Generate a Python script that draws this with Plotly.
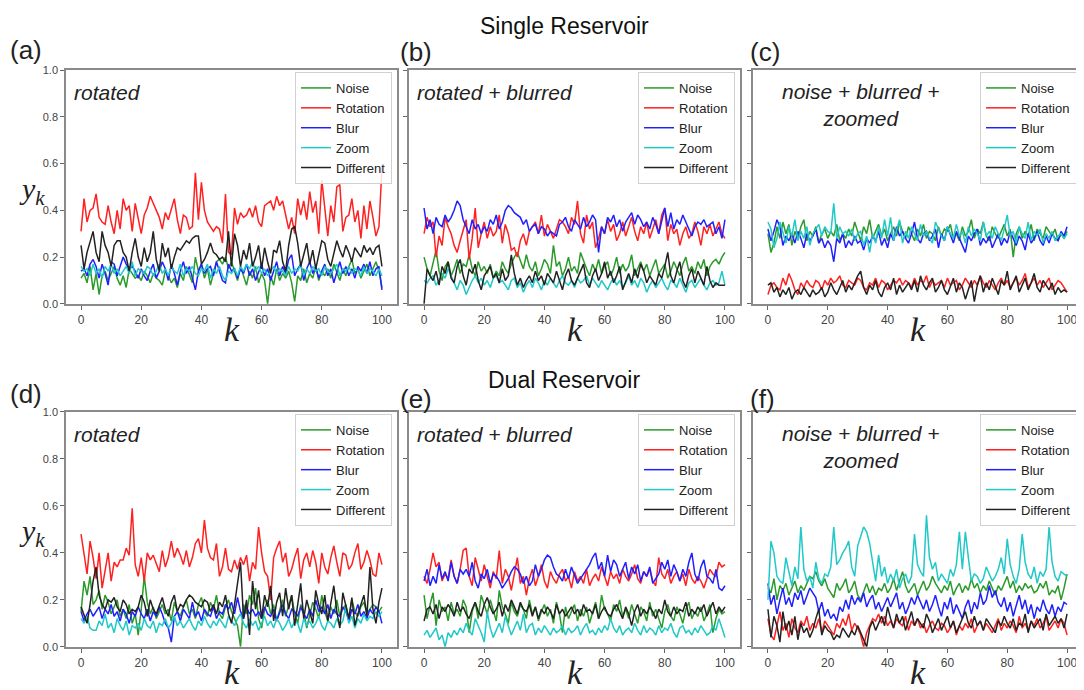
import plotly.graph_objects as go

# ---------------- data ----------------
series_names = ["Noise", "Rotation", "Blur", "Zoom", "Different"]
panel_labels = ["(a)", "(b)", "(c)", "(d)", "(e)", "(f)"]
panel_texts = ["rotated", "rotated + blurred", "noise + blurred +<br>zoomed",
               "rotated", "rotated + blurred", "noise + blurred +<br>zoomed"]
row_titles = ["Single Reservoir", "Dual Reservoir"]
x_ticks = [0, 20, 40, 60, 80, 100]
y_ticks = [0.0, 0.2, 0.4, 0.6, 0.8, 1.0]

# Panel (a)
A_noise = [.11,.13,.09,.16,.06,.13,.04,.12,.14,.10,.13,.16,.11,.08,.12,.07,.15,.13,.11,.12,.10,.14,.12,.09,.13,.11,.10,.08,.14,.12,.09,.11,.07,.13,.10,.16,.12,.09,.20,.14,.17,.11,.15,.08,.13,.18,.19,.17,.20,.15,.18,.14,.10,.16,.12,.08,.14,.11,.16,.09,.13,.10,.00,.12,.08,.15,.10,.13,.11,.14,.09,.01,.12,.10,.15,.09,.13,.11,.16,.10,.14,.12,.15,.11,.17,.13,.10,.15,.12,.16,.19,.13,.15,.11,.14,.17,.12,.15,.18,.14,.07]
A_rot = [.31,.45,.35,.40,.41,.47,.37,.35,.34,.42,.35,.30,.40,.32,.45,.40,.42,.31,.43,.37,.30,.38,.41,.46,.43,.40,.37,.32,.39,.36,.40,.45,.36,.30,.38,.37,.32,.33,.56,.36,.52,.40,.35,.33,.31,.33,.32,.26,.47,.22,.21,.41,.34,.39,.37,.38,.41,.37,.42,.35,.33,.42,.43,.44,.40,.46,.42,.44,.38,.32,.37,.30,.45,.38,.44,.36,.48,.39,.44,.30,.53,.40,.29,.42,.35,.50,.51,.31,.37,.38,.45,.35,.40,.28,.42,.32,.44,.37,.29,.33,.58]
A_blur = [.14,.15,.12,.17,.19,.16,.11,.17,.13,.08,.18,.17,.12,.16,.20,.17,.15,.16,.14,.11,.15,.12,.10,.14,.17,.11,.14,.18,.15,.10,.17,.13,.08,.14,.18,.13,.16,.11,.06,.14,.17,.13,.15,.16,.12,.18,.14,.10,.09,.17,.14,.15,.11,.15,.13,.17,.12,.15,.10,.14,.17,.12,.15,.10,.14,.18,.12,.16,.13,.19,.21,.12,.15,.17,.10,.15,.18,.13,.16,.11,.14,.17,.12,.15,.09,.14,.18,.13,.16,.12,.15,.11,.16,.14,.17,.13,.18,.12,.15,.16,.06]
A_zoom = [.16,.14,.15,.12,.17,.13,.15,.11,.16,.14,.17,.13,.15,.12,.14,.16,.13,.18,.12,.15,.14,.13,.16,.15,.12,.14,.17,.13,.15,.12,.16,.14,.13,.17,.12,.15,.14,.16,.13,.12,.15,.14,.17,.11,.15,.13,.16,.12,.10,.14,.13,.15,.12,.16,.14,.17,.15,.18,.14,.16,.13,.15,.12,.14,.16,.13,.15,.14,.12,.16,.13,.15,.14,.17,.12,.15,.13,.16,.14,.15,.12,.16,.14,.13,.15,.17,.12,.15,.14,.16,.13,.15,.14,.12,.16,.13,.15,.14,.12,.15,.12]
A_diff = [.25,.15,.22,.26,.31,.22,.18,.31,.25,.22,.16,.25,.27,.27,.22,.20,.14,.22,.28,.20,.16,.24,.18,.22,.31,.19,.14,.26,.20,.24,.15,.20,.24,.23,.25,.27,.26,.28,.29,.29,.17,.19,.22,.26,.22,.21,.19,.20,.18,.31,.16,.30,.25,.16,.23,.19,.26,.16,.20,.25,.15,.24,.18,.13,.23,.22,.27,.18,.14,.25,.32,.33,.26,.16,.21,.26,.17,.23,.15,.21,.27,.26,.19,.16,.22,.27,.23,.20,.25,.22,.18,.24,.22,.20,.25,.22,.24,.21,.24,.25,.16]

# Panel (b)
B_noise = [.20,.15,.12,.17,.23,.14,.10,.16,.18,.12,.15,.19,.13,.17,.16,.21,.15,.12,.18,.14,.16,.13,.17,.11,.14,.12,.18,.15,.13,.17,.20,.22,.18,.15,.21,.16,.14,.18,.12,.15,.19,.17,.13,.25,.16,.18,.12,.15,.20,.14,.16,.13,.22,.18,.15,.12,.17,.14,.19,.13,.16,.18,.12,.15,.20,.13,.17,.14,.16,.21,.12,.15,.18,.14,.17,.12,.16,.19,.13,.15,.17,.11,.14,.18,.15,.12,.17,.20,.14,.16,.13,.18,.15,.19,.12,.16,.18,.19,.17,.20,.22]
B_rot = [.30,.37,.33,.35,.20,.29,.25,.37,.33,.30,.25,.22,.27,.31,.36,.19,.28,.41,.24,.30,.35,.28,.33,.29,.31,.38,.26,.34,.30,.23,.24,.20,.27,.30,.25,.31,.33,.35,.30,.38,.29,.34,.31,.28,.32,.36,.35,.33,.30,.37,.34,.44,.30,.26,.38,.32,.35,.24,.28,.33,.30,.36,.31,.34,.27,.30,.35,.29,.33,.37,.31,.27,.33,.30,.35,.28,.32,.36,.30,.38,.41,.27,.34,.30,.32,.25,.30,.33,.28,.30,.35,.31,.25,.33,.30,.34,.29,.32,.35,.30,.28]
B_blur = [.41,.32,.36,.30,.37,.34,.33,.38,.35,.37,.40,.44,.42,.36,.33,.30,.36,.32,.34,.30,.33,.31,.36,.34,.38,.32,.35,.40,.42,.41,.39,.38,.37,.34,.36,.31,.33,.34,.30,.33,.32,.29,.31,.30,.29,.34,.35,.37,.33,.31,.36,.34,.32,.37,.33,.35,.38,.36,.22,.33,.30,.37,.35,.38,.33,.36,.31,.35,.37,.39,.34,.38,.36,.33,.35,.32,.37,.34,.30,.35,.41,.33,.39,.32,.36,.34,.38,.35,.32,.29,.33,.35,.34,.36,.33,.34,.35,.30,.33,.28,.36]
B_zoom = [.10,.09,.11,.12,.08,.10,.13,.11,.15,.12,.09,.06,.10,.08,.04,.07,.10,.12,.09,.11,.08,.10,.07,.11,.12,.09,.10,.08,.06,.10,.11,.07,.09,.05,.08,.10,.07,.11,.09,.06,.10,.08,.11,.09,.07,.10,.12,.09,.08,.10,.07,.11,.09,.10,.12,.08,.11,.09,.07,.10,.08,.06,.09,.11,.08,.10,.07,.09,.12,.08,.10,.07,.11,.09,.05,.08,.10,.07,.09,.11,.08,.06,.10,.09,.07,.11,.08,.05,.09,.10,.07,.09,.11,.08,.06,.09,.10,.08,.09,.14,.08]
B_diff = [.00,.15,.12,.10,.14,.08,.16,.13,.18,.11,.09,.16,.19,.12,.08,.15,.13,.17,.10,.06,.12,.14,.16,.11,.13,.09,.15,.10,.12,.21,.13,.08,.11,.07,.10,.12,.09,.14,.10,.12,.08,.13,.11,.09,.14,.10,.06,.12,.15,.10,.08,.11,.14,.17,.09,.07,.12,.15,.10,.13,.18,.11,.14,.09,.12,.16,.06,.10,.13,.09,.15,.11,.17,.14,.09,.12,.10,.08,.13,.11,.16,.22,.12,.09,.14,.18,.10,.07,.12,.15,.09,.14,.11,.08,.16,.10,.07,.09,.08,.08,.08]

# Panel (c)
C_noise = [.30,.22,.26,.33,.28,.35,.30,.34,.25,.31,.28,.33,.36,.27,.31,.29,.33,.26,.30,.32,.28,.31,.29,.34,.27,.30,.28,.32,.29,.35,.31,.27,.33,.30,.36,.28,.31,.34,.29,.32,.27,.30,.33,.29,.35,.31,.28,.33,.30,.27,.32,.29,.34,.28,.31,.30,.27,.33,.29,.32,.31,.34,.28,.30,.27,.33,.29,.31,.36,.28,.32,.30,.35,.29,.27,.33,.30,.28,.31,.34,.29,.32,.20,.30,.33,.28,.31,.29,.34,.27,.32,.30,.28,.33,.31,.29,.32,.27,.30,.28,.31]
C_rot = [.04,.08,.09,.07,.06,.11,.08,.13,.10,.06,.04,.09,.07,.10,.08,.07,.10,.09,.06,.10,.08,.11,.09,.10,.12,.08,.07,.10,.09,.08,.11,.10,.07,.06,.09,.08,.11,.07,.10,.09,.06,.08,.10,.09,.11,.08,.10,.09,.07,.11,.08,.10,.09,.12,.07,.10,.08,.09,.10,.07,.11,.08,.09,.10,.06,.08,.11,.09,.07,.10,.08,.12,.09,.07,.10,.08,.06,.09,.11,.08,.10,.07,.09,.11,.08,.10,.13,.07,.09,.11,.08,.10,.07,.09,.11,.06,.08,.10,.09,.07,.05]
C_blur = [.32,.27,.31,.36,.33,.25,.29,.27,.30,.26,.31,.28,.24,.30,.27,.29,.32,.26,.28,.24,.27,.25,.18,.28,.26,.30,.24,.27,.25,.29,.26,.27,.23,.28,.26,.29,.27,.31,.25,.28,.24,.30,.27,.33,.29,.31,.28,.26,.30,.35,.28,.26,.30,.31,.27,.29,.32,.24,.30,.27,.33,.29,.26,.31,.28,.25,.22,.29,.27,.30,.32,.25,.28,.26,.29,.24,.27,.30,.25,.28,.26,.31,.28,.25,.29,.27,.23,.30,.26,.28,.31,.27,.25,.29,.26,.30,.28,.27,.31,.29,.33]
C_zoom = [.35,.32,.24,.28,.35,.30,.26,.33,.29,.36,.27,.31,.28,.33,.25,.30,.32,.34,.29,.33,.31,.30,.43,.28,.33,.30,.31,.29,.32,.27,.30,.31,.25,.29,.22,.30,.26,.33,.28,.36,.29,.37,.27,.32,.36,.26,.31,.28,.33,.30,.27,.34,.29,.31,.28,.26,.35,.32,.29,.27,.33,.30,.28,.34,.29,.31,.26,.33,.29,.32,.30,.27,.35,.29,.31,.28,.33,.30,.27,.32,.38,.29,.31,.26,.33,.30,.28,.35,.27,.31,.29,.32,.26,.30,.28,.31,.27,.29,.30,.28,.30]
C_diff = [.08,.09,.05,.07,.03,.06,.04,.07,.02,.05,.06,.04,.07,.05,.03,.06,.04,.05,.07,.03,.05,.09,.06,.04,.07,.10,.05,.08,.06,.09,.12,.14,.07,.04,.08,.06,.10,.05,.03,.07,.09,.06,.11,.04,.08,.05,.07,.09,.06,.10,.05,.12,.08,.06,.09,.11,.05,.07,.10,.06,.04,.08,.11,.05,.09,.07,.02,.06,.10,.01,.08,.12,.05,.09,.06,.11,.07,.04,.10,.08,.14,.06,.09,.12,.05,.08,.11,.06,.09,.13,.07,.05,.10,.08,.06,.09,.04,.07,.05,.06,.05]

# Panel (d)
D_noise = [.15,.28,.22,.30,.18,.20,.24,.16,.22,.19,.14,.17,.20,.13,.16,.12,.18,.10,.14,.05,.16,.30,.19,.14,.17,.12,.15,.18,.14,.16,.11,.19,.15,.13,.17,.20,.14,.16,.12,.18,.21,.15,.13,.19,.16,.22,.14,.12,.17,.20,.15,.12,.09,.00,.18,.14,.22,.18,.25,.12,.08,.16,.20,.14,.18,.11,.15,.20,.13,.17,.22,.14,.10,.18,.15,.08,.13,.19,.16,.12,.22,.15,.11,.17,.14,.20,.13,.16,.18,.12,.20,.15,.13,.17,.19,.14,.16,.18,.17,.15,.17]
D_rot = [.48,.40,.31,.45,.38,.29,.40,.25,.33,.40,.28,.36,.34,.37,.37,.42,.39,.59,.35,.30,.38,.28,.40,.37,.39,.35,.32,.41,.34,.38,.45,.38,.42,.39,.35,.41,.34,.38,.44,.46,.40,.54,.42,.38,.37,.44,.30,.34,.42,.33,.32,.37,.33,.38,.35,.39,.28,.36,.33,.51,.40,.32,.30,.20,.38,.42,.45,.36,.40,.30,.33,.38,.42,.29,.37,.40,.34,.41,.36,.27,.40,.34,.31,.38,.43,.36,.30,.40,.39,.33,.35,.40,.44,.33,.36,.41,.37,.31,.30,.40,.35]
D_blur = [.15,.11,.14,.16,.13,.15,.17,.12,.16,.14,.18,.13,.15,.11,.16,.14,.10,.15,.13,.17,.14,.12,.16,.11,.15,.13,.17,.14,.10,.08,.02,.13,.15,.11,.16,.14,.12,.19,.13,.15,.11,.16,.14,.13,.17,.12,.15,.14,.18,.16,.19,.14,.21,.15,.12,.17,.14,.16,.13,.15,.12,.17,.14,.13,.16,.11,.15,.18,.14,.12,.16,.15,.13,.17,.14,.12,.16,.13,.20,.15,.17,.14,.18,.12,.16,.14,.13,.17,.15,.11,.16,.14,.18,.13,.15,.12,.16,.14,.17,.15,.10]
D_zoom = [.12,.10,.13,.08,.07,.07,.11,.09,.14,.08,.10,.06,.12,.09,.07,.11,.05,.09,.08,.10,.07,.12,.09,.08,.11,.06,.10,.09,.12,.08,.10,.13,.09,.11,.08,.10,.12,.09,.07,.11,.09,.13,.10,.08,.11,.09,.12,.10,.08,.13,.11,.09,.12,.14,.10,.08,.12,.09,.11,.07,.10,.13,.09,.11,.08,.12,.10,.07,.09,.12,.08,.11,.10,.06,.12,.09,.11,.08,.10,.13,.09,.07,.11,.10,.08,.12,.09,.11,.17,.10,.13,.08,.12,.10,.14,.11,.13,.12,.15,.13,.15]
D_diff = [.17,.13,.10,.18,.28,.34,.22,.18,.16,.20,.19,.21,.17,.15,.20,.18,.14,.16,.15,.17,.22,.19,.13,.20,.16,.14,.18,.21,.16,.13,.19,.22,.15,.18,.17,.20,.22,.21,.19,.18,.17,.20,.19,.15,.18,.14,.19,.17,.22,.14,.10,.18,.26,.36,.12,.20,.05,.28,.16,.24,.12,.22,.17,.26,.11,.19,.23,.13,.25,.16,.22,.09,.18,.27,.12,.20,.15,.10,.24,.18,.14,.22,.11,.19,.26,.15,.08,.23,.17,.12,.21,.09,.14,.18,.22,.13,.34,.16,.10,.19,.25]

# Panel (e)
E_noise = [.22,.12,.18,.23,.09,.20,.15,.17,.11,.19,.14,.16,.13,.20,.17,.06,.15,.19,.12,.22,.18,.14,.20,.16,.11,.24,.17,.14,.10,.19,.15,.13,.18,.16,.12,.20,.14,.17,.11,.15,.18,.13,.16,.10,.19,.14,.06,.17,.12,.15,.18,.11,.16,.13,.17,.10,.15,.19,.12,.22,.16,.14,.11,.18,.15,.20,.13,.16,.12,.18,.14,.10,.17,.15,.11,.19,.13,.16,.12,.08,.15,.18,.13,.11,.17,.14,.10,.16,.19,.12,.15,.13,.17,.11,.14,.18,.06,.12,.16,.14,.15]
E_rot = [.30,.27,.33,.40,.34,.36,.28,.31,.29,.37,.30,.27,.33,.41,.42,.30,.26,.38,.33,.28,.35,.30,.25,.32,.29,.41,.27,.33,.30,.24,.31,.38,.27,.30,.22,.29,.33,.26,.30,.35,.28,.25,.32,.29,.27,.31,.33,.28,.30,.25,.32,.28,.30,.27,.33,.26,.29,.31,.28,.34,.30,.26,.32,.29,.31,.27,.33,.30,.28,.31,.35,.29,.27,.32,.30,.33,.28,.26,.38,.31,.29,.33,.27,.30,.32,.28,.31,.26,.33,.29,.27,.30,.28,.25,.29,.33,.31,.30,.36,.34,.35]
E_blur = [.28,.33,.26,.30,.27,.35,.29,.32,.28,.36,.30,.27,.33,.31,.33,.30,.36,.28,.25,.31,.29,.33,.27,.31,.30,.28,.25,.27,.29,.32,.34,.33,.31,.27,.30,.26,.28,.35,.30,.33,.37,.39,.38,.34,.31,.30,.28,.33,.29,.34,.30,.27,.29,.31,.33,.35,.38,.40,.33,.36,.30,.39,.32,.37,.35,.30,.33,.36,.29,.34,.31,.35,.28,.32,.30,.34,.27,.29,.31,.36,.33,.37,.30,.35,.32,.28,.33,.30,.36,.40,.31,.28,.34,.37,.30,.29,.27,.33,.25,.24,.26]
E_zoom = [.05,.07,.04,.06,.08,.03,.05,.00,.06,.04,.07,.05,.08,.06,.10,.07,.05,.12,.09,.06,.02,.15,.08,.04,.07,.10,.06,.13,.09,.05,.08,.11,.07,.14,.06,.09,.10,.05,.08,.06,.09,.07,.05,.08,.06,.07,.09,.05,.08,.06,.07,.09,.05,.08,.10,.06,.07,.05,.08,.06,.09,.07,.12,.08,.06,.09,.05,.07,.08,.06,.10,.07,.05,.09,.06,.08,.07,.05,.09,.06,.08,.07,.10,.06,.04,.08,.09,.06,.07,.05,.08,.06,.09,.07,.05,.06,.09,.07,.12,.08,.04]
E_diff = [.11,.16,.17,.14,.18,.12,.17,.15,.18,.16,.13,.19,.15,.17,.14,.12,.16,.19,.15,.13,.18,.21,.17,.14,.16,.19,.13,.18,.15,.20,.17,.14,.19,.16,.15,.18,.13,.17,.12,.16,.14,.17,.15,.12,.18,.14,.16,.13,.15,.17,.14,.16,.13,.18,.15,.16,.14,.18,.12,.15,.17,.14,.13,.16,.18,.15,.12,.17,.14,.09,.15,.18,.13,.16,.14,.17,.15,.12,.16,.14,.20,.15,.13,.17,.14,.16,.15,.19,.13,.16,.14,.17,.15,.18,.13,.16,.19,.14,.17,.15,.17]

# Panel (f)
F_noise = [.25,.23,.29,.20,.26,.24,.27,.22,.25,.28,.23,.26,.24,.27,.30,.29,.32,.28,.26,.29,.25,.23,.21,.27,.24,.26,.29,.23,.25,.28,.22,.20,.24,.27,.23,.26,.22,.25,.24,.27,.23,.25,.29,.24,.28,.32,.26,.23,.25,.27,.22,.25,.28,.24,.26,.30,.27,.25,.23,.26,.24,.28,.22,.25,.27,.23,.26,.24,.29,.25,.27,.23,.26,.24,.28,.25,.22,.26,.24,.27,.30,.25,.28,.23,.26,.24,.27,.25,.26,.23,.24,.27,.25,.28,.22,.24,.23,.26,.20,.25,.31]
F_rot = [.12,.05,.03,.09,.15,.07,.10,.04,.12,.08,.06,.11,.09,.13,.07,.10,.08,.12,.06,.11,.09,.07,.05,.10,.08,.12,.09,.14,.07,.10,.08,.05,.00,.06,.09,.12,.11,.14,.10,.13,.09,.11,.08,.12,.10,.09,.13,.07,.11,.09,.12,.08,.10,.06,.09,.11,.08,.07,.10,.09,.06,.08,.11,.05,.09,.07,.10,.08,.12,.06,.09,.11,.07,.10,.08,.06,.09,.12,.07,.10,.08,.11,.09,.06,.13,.08,.10,.07,.11,.09,.12,.08,.10,.13,.07,.09,.11,.08,.12,.10,.05]
F_blur = [.27,.18,.22,.14,.20,.25,.18,.21,.17,.23,.20,.24,.18,.22,.25,.23,.21,.15,.19,.13,.16,.12,.14,.11,.17,.15,.20,.16,.22,.18,.21,.19,.23,.17,.20,.22,.16,.19,.15,.18,.21,.17,.20,.23,.16,.19,.14,.17,.21,.18,.22,.19,.16,.20,.15,.18,.22,.17,.13,.19,.16,.21,.14,.18,.15,.12,.17,.20,.14,.19,.16,.23,.18,.20,.26,.21,.24,.19,.17,.21,.15,.19,.13,.18,.22,.16,.20,.14,.18,.12,.17,.15,.20,.16,.14,.18,.13,.17,.15,.19,.18]
F_zoom = [.20,.45,.40,.30,.28,.27,.38,.32,.26,.34,.29,.51,.33,.28,.30,.25,.36,.29,.27,.31,.30,.34,.51,.35,.37,.40,.42,.45,.34,.30,.43,.47,.51,.49,.44,.36,.28,.39,.30,.34,.27,.31,.28,.33,.25,.29,.31,.27,.30,.48,.35,.32,.30,.56,.38,.33,.36,.28,.31,.29,.27,.33,.30,.35,.49,.33,.49,.38,.28,.31,.30,.27,.29,.34,.31,.28,.30,.33,.38,.31,.46,.35,.30,.27,.33,.48,.36,.31,.29,.34,.27,.32,.30,.33,.51,.36,.30,.28,.32,.31,.30]
F_diff = [.16,.04,.13,.09,.02,.15,.07,.11,.05,.13,.03,.10,.06,.08,.04,.07,.12,.16,.05,.09,.07,.06,.03,.05,.04,.08,.06,.04,.07,.05,.09,.06,.03,.00,.08,.11,.07,.10,.13,.09,.17,.12,.08,.14,.10,.13,.07,.11,.15,.09,.12,.10,.08,.14,.11,.06,.09,.12,.07,.10,.13,.08,.11,.06,.09,.12,.15,.10,.08,.13,.09,.11,.07,.12,.10,.08,.06,.11,.09,.13,.10,.08,.12,.07,.10,.09,.14,.06,.11,.08,.10,.12,.07,.14,.09,.11,.13,.10,.12,.08,.14]

panels = [
    [A_noise, A_rot, A_blur, A_zoom, A_diff],
    [B_noise, B_rot, B_blur, B_zoom, B_diff],
    [C_noise, C_rot, C_blur, C_zoom, C_diff],
    [D_noise, D_rot, D_blur, D_zoom, D_diff],
    [E_noise, E_rot, E_blur, E_zoom, E_diff],
    [F_noise, F_rot, F_blur, F_zoom, F_diff],
]

# ---------------- styling ----------------
W, H = 1084, 690
OFF = 8  # the page body margin shifts the figure by 8 px
colors = ["#2a9a2a", "#ff2020", "#2020ff", "#20c8c8", "#222222"]
col_px = [(66, 397), (409, 740), (753, 1082)]
row_px = [(65, 303), (413, 652)]
TICKFONT = "Liberation Sans, Arial, sans-serif"
SANS = "Liberation Sans, Arial, sans-serif"
SERIF = "Liberation Serif, DejaVu Serif, serif"
label_pos = [(8, 45), (398, 47), (748, 47), (8, 395), (398, 400), (748, 400)]
title_y = [20, 380]

def px(x):
    return (x - OFF) / W

def py(y):
    return 1 - (y - OFF) / H

fig = go.Figure()
layout = dict(width=W, height=H, margin=dict(l=0, r=0, t=0, b=0),
              plot_bgcolor="white", paper_bgcolor="white", showlegend=True)
annotations = []

for p in range(6):
    r, c = divmod(p, 3)
    ax = "" if p == 0 else str(p + 1)
    x0, x1 = col_px[c]
    y0, y1 = row_px[r]
    layout["xaxis" + ax] = dict(
        domain=[px(x0), px(x1)], range=[-5, 105], anchor="y" + ax,
        tickvals=x_ticks, ticks="outside", ticklen=4, tickcolor="#666",
        showline=True, mirror=True, linecolor="#8a8a8a", linewidth=1.5,
        showgrid=False, zeroline=False,
        tickfont=dict(family=TICKFONT, size=12, color="#444"))
    layout["yaxis" + ax] = dict(
        domain=[py(y1), py(y0)], range=[0, 1], anchor="x" + ax,
        tickvals=y_ticks, ticktext=["%.1f" % v for v in y_ticks],
        showticklabels=(c == 0), ticks="outside", ticklen=4, tickcolor="#666",
        showline=True, mirror=True, linecolor="#8a8a8a", linewidth=1.5,
        showgrid=False, zeroline=False,
        tickfont=dict(family=TICKFONT, size=11, color="#444"))
    leg = "legend" if p == 0 else "legend%d" % (p + 1)
    layout[leg] = dict(
        x=px(x1 - 5), y=py(y0 + 2), xanchor="right", yanchor="top",
        bgcolor="rgba(255,255,255,0.85)", bordercolor="#d0d0d0", borderwidth=1,
        font=dict(family=SANS, size=13, color="#222"), tracegroupgap=0,
        itemwidth=30)
    for s, name in enumerate(series_names):
        yv = panels[p][s]
        fig.add_trace(go.Scatter(
            x=list(range(len(yv))), y=yv, mode="lines", name=name,
            line=dict(color=colors[s], width=1.5),
            xaxis="x" + ax, yaxis="y" + ax, legend=leg))
    # panel label
    lx, ly = label_pos[p]
    annotations.append(dict(text=panel_labels[p], x=px(lx), y=py(ly),
                            xref="paper", yref="paper",
                            xanchor="left", yanchor="middle", showarrow=False,
                            font=dict(family=SANS, size=26, color="#222")))
    # inner description
    if c < 2:
        annotations.append(dict(text="<i>" + panel_texts[p] + "</i>",
                                x=px(x0 + 6), y=py(y0 + 23), xref="paper", yref="paper",
                                xanchor="left", yanchor="middle", showarrow=False,
                                font=dict(family=SANS, size=21, color="#222")))
    else:
        annotations.append(dict(text="<i>" + panel_texts[p] + "</i>",
                                x=px(x0 + 108), y=py(y0 + 36), xref="paper", yref="paper",
                                xanchor="center", yanchor="middle", showarrow=False,
                                align="center",
                                font=dict(family=SANS, size=21, color="#222")))
    # x-axis label
    annotations.append(dict(text="<i>k</i>", x=px((x0 + x1) / 2), y=py(y1 + 26),
                            xref="paper", yref="paper", xanchor="center",
                            yanchor="middle", showarrow=False,
                            font=dict(family=SERIF, size=34, color="#222")))
    # y-axis label
    if c == 0:
        annotations.append(dict(text="<i>y</i><sub><i>k</i></sub>", x=px(32),
                                y=py((y0 + y1) / 2 + 4), xref="paper", yref="paper",
                                xanchor="center", yanchor="middle", showarrow=False,
                                font=dict(family=SERIF, size=30, color="#222")))

for r, t in enumerate(row_titles):
    annotations.append(dict(text=t, x=px(564), y=py(title_y[r]),
                            xref="paper", yref="paper", xanchor="center",
                            yanchor="middle", showarrow=False,
                            font=dict(family=SANS, size=23, color="#111")))

layout["annotations"] = annotations
fig.update_layout(**layout)
fig.write_html("out.html")
